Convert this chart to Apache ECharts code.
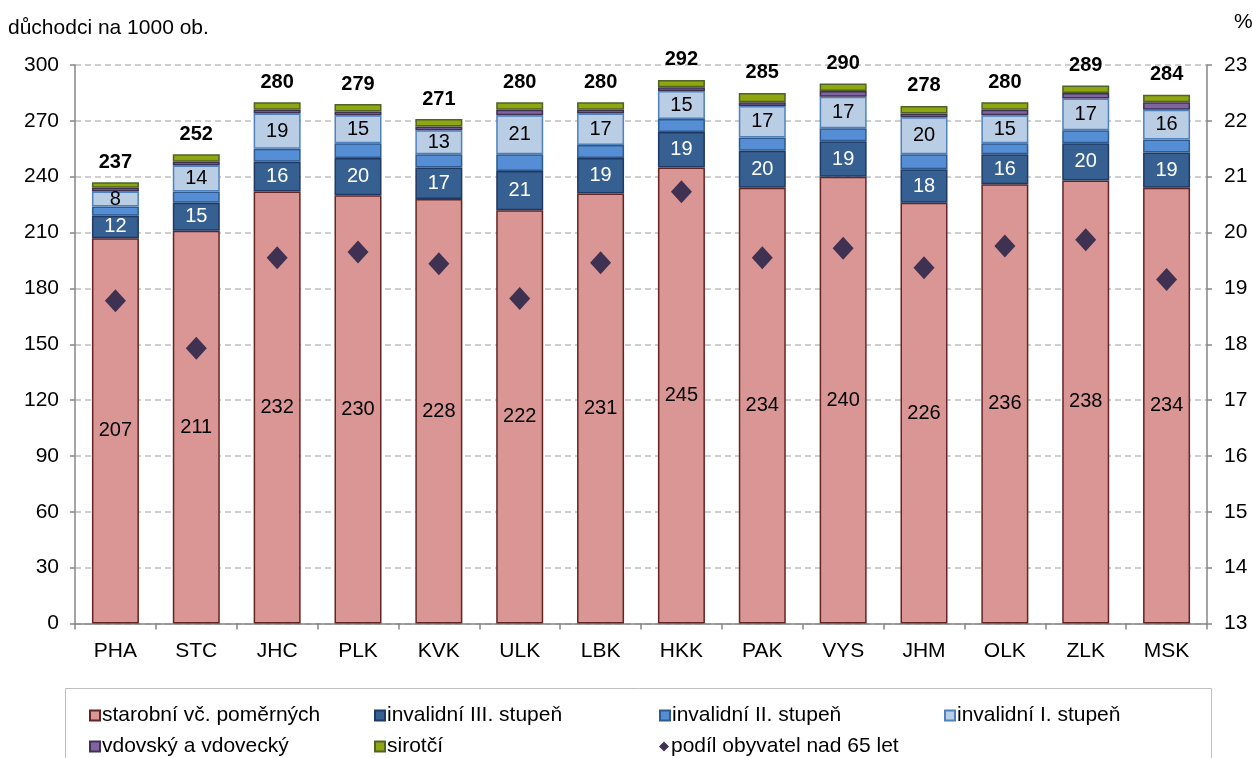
<!DOCTYPE html>
<html>
<head>
<meta charset="utf-8">
<script src="https://cdn.jsdelivr.net/npm/echarts@6/dist/echarts.min.js"></script>
<style>
html,body{margin:0;padding:0;background:#fff;}
#main{width:1252px;height:758px;}
</style>
</head>
<body>
<div id="main"></div>
<script>
const categories = ['PHA','STC','JHC','PLK','KVK','ULK','LBK','HKK','PAK','VYS','JHM','OLK','ZLK','MSK'];
const starobni   = [207,211,232,230,228,222,231,245,234,240,226,236,238,234];
const invIII     = [12,15,16,20,17,21,19,19,20,19,18,16,20,19];
const invII      = [5,6,7,8,7,9,7,7,7,7,8,6,7,7];
const invI       = [8,14,19,15,13,21,17,15,17,17,20,15,17,16];
const vdovsky    = [2,2,2,2,2,3,2,2,2,3,2,3,3,4];
const sirotci    = [3,4,4,4,4,4,4,4,5,4,4,4,4,4];
const totals     = [237,252,280,279,271,280,280,292,285,290,278,280,289,284];
const podil65    = [18.78,17.93,19.55,19.65,19.44,18.82,19.46,20.73,19.55,19.72,19.37,19.76,19.87,19.16];
const leftTicks  = {min:0, max:300, interval:30};
const rightTicks = {min:13, max:23, interval:1};

const FONT = 'Liberation Sans, Arial, sans-serif';
const chart = echarts.init(document.getElementById('main'));

function barSeries(name, data, fill, border, label){
  return {
    name, type:'bar', stack:'s', data, barWidth:47,
    itemStyle:{color:fill, borderColor:border, borderWidth:1.5},
    label: label || {show:false},
    emphasis:{disabled:true}
  };
}

const option = {
  animation:false,
  textStyle:{fontFamily:FONT},
  grid:{left:75, right:45, top:65, bottom:134.5, containLabel:false},
  graphic:[
    {type:'text', left:8, top:18, style:{text:'důchodci na 1000 ob.', font:'21px '+FONT, fill:'#000'}},
    {type:'text', left:1234, top:12, style:{text:'%', font:'21px '+FONT, fill:'#000'}},
    {type:'rect', shape:{x:65.5, y:688.5, width:1146, height:90}, style:{fill:'none', stroke:'#BFBFBF', lineWidth:1}, z:-1}
  ],
  legend:{
    left:84, top:700, width:1160,
    itemWidth:10, itemHeight:10, itemGap:10,
    textStyle:{fontSize:21, color:'#000', fontFamily:FONT, width:262, lineHeight:20, padding:[0,0,0,-3]},
    data:[
      {name:'starobní vč. poměrných', icon:'rect'},
      {name:'invalidní III. stupeň', icon:'rect'},
      {name:'invalidní II. stupeň', icon:'rect'},
      {name:'invalidní I. stupeň', icon:'rect'},
      {name:'vdovský a vdovecký', icon:'rect'},
      {name:'sirotčí', icon:'rect'},
      {name:'podíl obyvatel nad 65 let', icon:'diamond'}
    ]
  },
  xAxis:{
    type:'category', data:categories,
    axisLine:{lineStyle:{color:'#868686', width:1.5}},
    axisTick:{show:true, alignWithLabel:false, length:6, lineStyle:{color:'#868686', width:1.5}},
    axisLabel:{color:'#000', fontSize:21, margin:17, fontFamily:FONT}
  },
  yAxis:[
    {type:'value', min:leftTicks.min, max:leftTicks.max, interval:leftTicks.interval,
     axisLine:{show:true, lineStyle:{color:'#868686', width:1.5}},
     axisTick:{show:true, length:5, lineStyle:{color:'#868686', width:1.5}},
     axisLabel:{color:'#000', fontSize:21, margin:16, fontFamily:FONT},
     splitLine:{show:true, lineStyle:{color:'#BFBFBF', type:[6,4], width:1.5}}},
    {type:'value', min:rightTicks.min, max:rightTicks.max, interval:rightTicks.interval,
     axisLine:{show:true, lineStyle:{color:'#868686', width:1.5}},
     axisTick:{show:true, length:5, lineStyle:{color:'#868686', width:1.5}},
     axisLabel:{color:'#000', fontSize:21, margin:17, fontFamily:FONT},
     splitLine:{show:false}}
  ],
  series:[
    barSeries('starobní vč. poměrných', starobni, '#D99694', '#632523',
      {show:true, position:'inside', color:'#000', fontSize:20, fontFamily:FONT}),
    barSeries('invalidní III. stupeň', invIII, '#366092', '#1F3864',
      {show:true, position:'inside', color:'#fff', fontSize:20, fontFamily:FONT}),
    barSeries('invalidní II. stupeň', invII, '#558ED5', '#2E5A8C'),
    barSeries('invalidní I. stupeň', invI, '#B9CDE5', '#4F81BD',
      {show:true, position:'inside', color:'#000', fontSize:20, fontFamily:FONT}),
    barSeries('vdovský a vdovecký', vdovsky, '#8064A2', '#3F3151'),
    barSeries('sirotčí', sirotci, '#8EA60F', '#4F6228',
      {show:true, position:'top', distance:10, color:'#000', fontSize:20, fontWeight:'bold', fontFamily:FONT,
       formatter:(p)=>String(totals[p.dataIndex])}),
    {name:'podíl obyvatel nad 65 let', type:'scatter', yAxisIndex:1, data:podil65,
     symbol:'diamond', symbolSize:[21,23], itemStyle:{color:'#3F3151', opacity:1}, z:10, emphasis:{disabled:true}}
  ]
};
chart.setOption(option);
</script>
</body>
</html>
